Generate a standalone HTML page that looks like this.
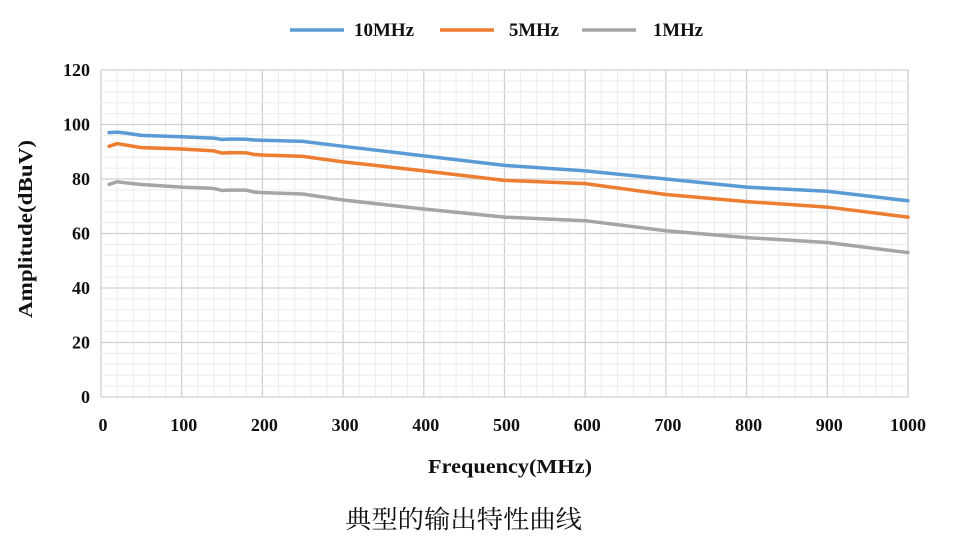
<!DOCTYPE html>
<html><head><meta charset="utf-8"><style>
body{margin:0;background:#fff;width:953px;height:540px;overflow:hidden}
svg{display:block}
text{font-family:"Liberation Serif","Noto Serif CJK SC",serif;font-weight:bold;fill:#111}
</style></head><body>
<svg id="s" width="953" height="540" xmlns="http://www.w3.org/2000/svg">
<g id="grid"></g>
<g id="lines" fill="none" stroke-width="3.5" stroke-linejoin="round" stroke-linecap="round"></g>
<line x1="290" y1="30" x2="344" y2="30" stroke="#5b9bd5" stroke-width="3.5"/>
<text x="354" y="36" font-size="19" textLength="60" lengthAdjust="spacingAndGlyphs">10MHz</text>
<line x1="440" y1="30" x2="494" y2="30" stroke="#ed7d31" stroke-width="3.5"/>
<text x="509" y="36" font-size="19" textLength="50" lengthAdjust="spacingAndGlyphs">5MHz</text>
<line x1="582" y1="30" x2="636" y2="30" stroke="#a5a5a5" stroke-width="3.5"/>
<text x="653" y="36" font-size="19" textLength="50" lengthAdjust="spacingAndGlyphs">1MHz</text>
<g id="labels" font-size="18"></g>
<text x="428" y="473" font-size="20" textLength="164" lengthAdjust="spacingAndGlyphs">Frequency(MHz)</text>
<text transform="translate(32,318) rotate(-90)" font-size="20" textLength="178" lengthAdjust="spacingAndGlyphs">Amplitude(dBuV)</text>
<text x="345" y="528" font-size="25" textLength="237" lengthAdjust="spacingAndGlyphs" style="font-weight:normal;font-family:'Noto Serif CJK SC','Noto Sans CJK SC',serif">典型的输出特性曲线</text>
</svg>
<script>
const X=f=>101+f*0.807, Y=v=>397-v*2.725, NS="http://www.w3.org/2000/svg";
const g=document.getElementById('grid'),L=document.getElementById('labels'),ln=document.getElementById('lines');
function el(p,t,a,txt){const e=document.createElementNS(NS,t);for(const k in a)e.setAttribute(k,a[k]);if(txt!=null)e.textContent=txt;p.appendChild(e);return e;}
for(let f=0;f<=1000;f+=20){const maj=f%100==0;el(g,'line',{x1:X(f),x2:X(f),y1:Y(120),y2:Y(0),stroke:maj?'#d0d0d0':'#ececec','stroke-width':maj?1.3:1});}
for(let v=0;v<=120;v+=4){const maj=v%20==0;el(g,'line',{x1:X(0),x2:X(1000),y1:Y(v),y2:Y(v),stroke:maj?'#d0d0d0':'#ececec','stroke-width':maj?1.3:1});}
for(let f=0;f<=1000;f+=100)el(L,'text',{x:X(f)+(f==0?2:f==1000?0:2),y:431,'text-anchor':'middle'},String(f));
for(let v=0;v<=120;v+=20)el(L,'text',{x:90,y:Y(v)+6,'text-anchor':'end'},String(v));
const fs=[10,20,30,50,100,130,140,150,160,180,190,200,250,300,400,500,600,700,800,900,1000];
const d={
'#5b9bd5':[97,97.2,96.9,96,95.5,95.1,95,94.5,94.7,94.6,94.3,94.2,93.8,92,88.5,85,83,80,77,75.5,72],
'#ed7d31':[92,93,92.5,91.5,91,90.5,90.3,89.5,89.7,89.6,89,88.8,88.3,86.3,83,79.5,78.3,74.3,71.7,69.7,66],
'#a5a5a5':[78,79,78.6,78,77,76.7,76.5,75.8,75.9,75.9,75.2,75,74.5,72.3,69,66,64.7,61,58.5,56.7,53]};
for(const c in d)el(ln,'polyline',{stroke:c,points:fs.map((f,i)=>X(f)+','+Y(d[c][i])).join(' ')});
</script>
</body></html>
